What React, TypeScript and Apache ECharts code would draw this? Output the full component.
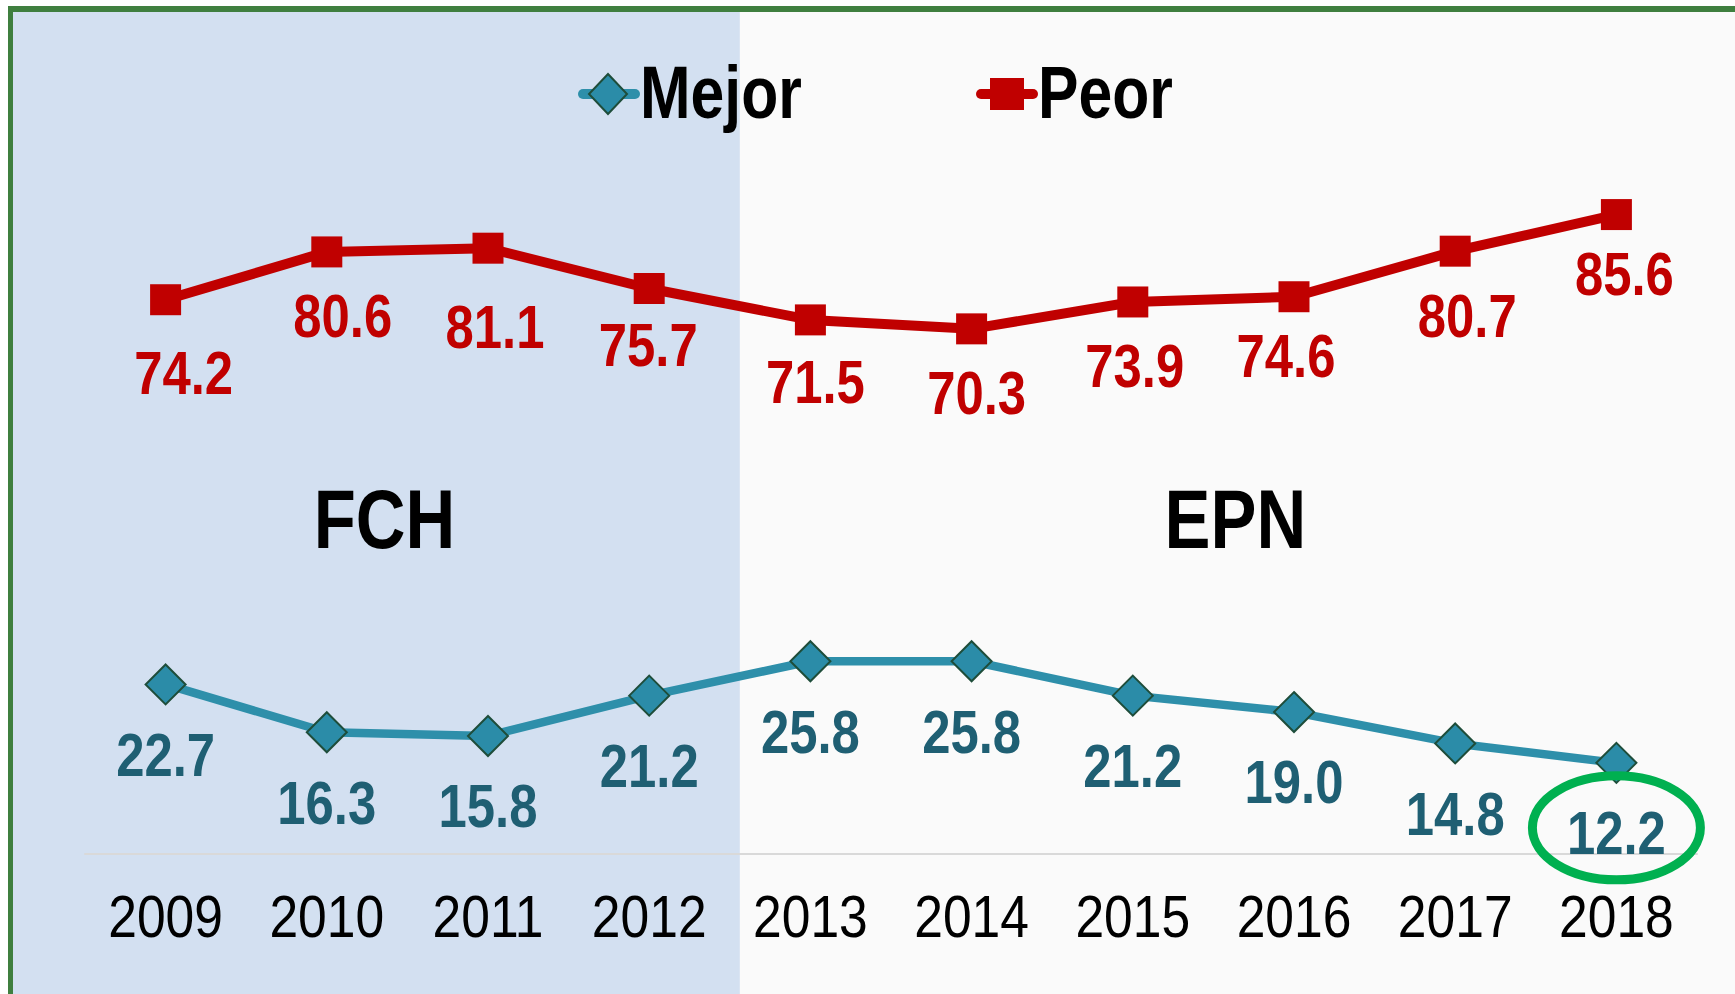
import React, { useEffect, useRef } from "react";
import * as echarts from "echarts";

// ---- data ----
const years = ["2009", "2010", "2011", "2012", "2013", "2014", "2015", "2016", "2017", "2018"];
const mejor = [22.7, 16.3, 15.8, 21.2, 25.8, 25.8, 21.2, 19.0, 14.8, 12.2];
const peor = [74.2, 80.6, 81.1, 75.7, 71.5, 70.3, 73.9, 74.6, 80.7, 85.6];
const seriesNames = ["Mejor", "Peor"];
const periodLabels = ["FCH", "EPN"];
const lastFchYear = "2012";
const firstEpnYear = "2013";
const highlightYear = "2018";

// ---- label placement tweaks (layout only) ----
const peorLabelDx = [18, 16, 7, -1, 5, 5, 2, -8, 12, 8];
const peorLabelDy = [73, 64, 78, 56, 62, 64, 64, 59, 65, 59];
const mejorLabelDy = 70;
const yearLabelDy = 62;

// Arial Narrow is Arial compressed to 82 %: Liberation Sans (Arial metrics) scaled horizontally
const NARROW_SCALE = 0.82;
const YEAR_SCALE = 0.86;
const FAMILY = '"Liberation Sans", Arial, sans-serif';
const W = 1735;
const H = 994;

const RED = "#C00000";
const TEAL_LINE = "#2E8FAA";
const TEAL_FILL = "#2B8CA8";
const TEAL_BORDER = "#1E4D3A";
const TEAL_TEXT = "#1F5F73";

function labelSeries(name: string, values: number[], color: string, dx: (i: number) => number, dy: (i: number) => number) {
  return {
    name,
    type: "custom",
    coordinateSystem: "cartesian2d",
    z: 5,
    silent: true,
    data: values.map((v, i) => [i, v]),
    renderItem: (params: any, api: any) => {
      const i = params.dataIndex;
      const pt = api.coord([api.value(0), api.value(1)]);
      return {
        type: "text",
        x: pt[0] + dx(i),
        y: pt[1] + dy(i),
        scaleX: NARROW_SCALE,
        style: {
          text: Number(api.value(1)).toFixed(1),
          font: `bold 62px ${FAMILY}`,
          fill: color,
          align: "center",
          verticalAlign: "middle",
        },
      };
    },
  };
}

export default function App() {
  const ref = useRef<HTMLDivElement>(null);
  useEffect(() => {
    document.body.style.margin = "0";
    const chart = echarts.init(ref.current!, null, { renderer: "svg" });
    const option: any = {
      animation: false,
      backgroundColor: "#ffffff",
      grid: { left: 85, right: 38, top: 107, bottom: 140, containLabel: false },
      xAxis: {
        type: "category",
        data: years,
        boundaryGap: true,
        axisLine: { show: true, lineStyle: { color: "#D9D9D9", width: 2 } },
        axisTick: { show: false },
        axisLabel: { show: false },
        splitLine: { show: false },
      },
      yAxis: {
        type: "value",
        min: 0,
        max: 100,
        show: false,
        splitLine: { show: false },
      },
      series: [
        {
          name: seriesNames[0],
          type: "line",
          data: mejor,
          symbol: "diamond",
          symbolSize: 40,
          z: 3,
          lineStyle: { color: TEAL_LINE, width: 8.5 },
          itemStyle: { color: TEAL_FILL, borderColor: TEAL_BORDER, borderWidth: 2 },
        },
        {
          name: seriesNames[1],
          type: "line",
          data: peor,
          symbol: "rect",
          symbolSize: 31,
          z: 3,
          lineStyle: { color: RED, width: 10 },
          itemStyle: { color: RED },
        },
        labelSeries("Mejor labels", mejor, TEAL_TEXT, () => 0, () => mejorLabelDy),
        labelSeries("Peor labels", peor, RED, (i) => peorLabelDx[i], (i) => peorLabelDy[i]),
        {
          name: "years",
          type: "custom",
          coordinateSystem: "cartesian2d",
          z: 5,
          silent: true,
          data: years.map((y, i) => [i, 0]),
          renderItem: (params: any, api: any) => {
            const pt = api.coord([api.value(0), 0]);
            return {
              type: "text",
              x: pt[0],
              y: pt[1] + yearLabelDy,
              scaleX: YEAR_SCALE,
              style: {
                text: years[params.dataIndex],
                font: `60px ${FAMILY}`,
                fill: "#000",
                align: "center",
                verticalAlign: "middle",
              },
            };
          },
        },
      ],
    };
    chart.setOption(option);

    const x12 = chart.convertToPixel({ xAxisIndex: 0 }, lastFchYear) as number;
    const x13 = chart.convertToPixel({ xAxisIndex: 0 }, firstEpnYear) as number;
    const split = (x12 + x13) / 2 + 10;
    const hi = chart.convertToPixel({ gridIndex: 0 }, [highlightYear, mejor[years.indexOf(highlightYear)]]) as number[];
    const panelTop = 12;
    const panelLeft = 13;

    // legend (drawn by hand so the narrow type can be matched)
    const legY = 94;
    const legTextY = 92;
    const legFont = `bold 74px ${FAMILY}`;

    chart.setOption({
      graphic: [
        { type: "rect", z: -10, silent: true, shape: { x: panelLeft, y: panelTop, width: W, height: H }, style: { fill: "#FAFAFA" } },
        { type: "rect", z: -9, silent: true, shape: { x: panelLeft, y: panelTop, width: split - panelLeft, height: H }, style: { fill: "#D3E0F1" } },
        { type: "line", z: -8, silent: true, shape: { x1: 10.5, y1: 6, x2: 10.5, y2: H }, style: { stroke: "#3F7F3F", lineWidth: 5 } },
        { type: "line", z: -8, silent: true, shape: { x1: 8, y1: 9, x2: W, y2: 9 }, style: { stroke: "#3F7F3F", lineWidth: 6 } },
        {
          type: "text", z: 10, silent: true,
          x: (panelLeft + split) / 2 + 8, y: 518, scaleX: NARROW_SCALE,
          style: { text: periodLabels[0], font: `bold 84px ${FAMILY}`, fill: "#000", align: "center", verticalAlign: "middle" },
        },
        {
          type: "text", z: 10, silent: true,
          x: (split + W) / 2 - 2, y: 518, scaleX: NARROW_SCALE,
          style: { text: periodLabels[1], font: `bold 84px ${FAMILY}`, fill: "#000", align: "center", verticalAlign: "middle" },
        },
        {
          type: "ellipse", z: 10, silent: true,
          shape: { cx: hi[0], cy: hi[1] + 65, rx: 84, ry: 52 },
          style: { fill: "none", stroke: "#00B050", lineWidth: 9 },
        },
        // legend: Mejor
        { type: "line", z: 10, silent: true, shape: { x1: 583, y1: legY, x2: 635, y2: legY }, style: { stroke: TEAL_LINE, lineWidth: 10, lineCap: "round" } },
        {
          type: "polygon", z: 11, silent: true,
          shape: { points: [[608, legY - 20], [627, legY], [608, legY + 20], [589, legY]] },
          style: { fill: TEAL_FILL, stroke: TEAL_BORDER, lineWidth: 2 },
        },
        {
          type: "text", z: 11, silent: true, x: 640, y: legTextY, scaleX: NARROW_SCALE,
          style: { text: seriesNames[0], font: legFont, fill: "#000", align: "left", verticalAlign: "middle" },
        },
        // legend: Peor
        { type: "line", z: 10, silent: true, shape: { x1: 981, y1: legY, x2: 1033, y2: legY }, style: { stroke: RED, lineWidth: 10, lineCap: "round" } },
        { type: "rect", z: 11, silent: true, shape: { x: 990, y: legY - 16, width: 34, height: 32 }, style: { fill: RED } },
        {
          type: "text", z: 11, silent: true, x: 1038, y: legTextY, scaleX: NARROW_SCALE,
          style: { text: seriesNames[1], font: legFont, fill: "#000", align: "left", verticalAlign: "middle" },
        },
      ],
    });
    return () => chart.dispose();
  }, []);
  return <div ref={ref} style={{ width: W, height: H }} />;
}
